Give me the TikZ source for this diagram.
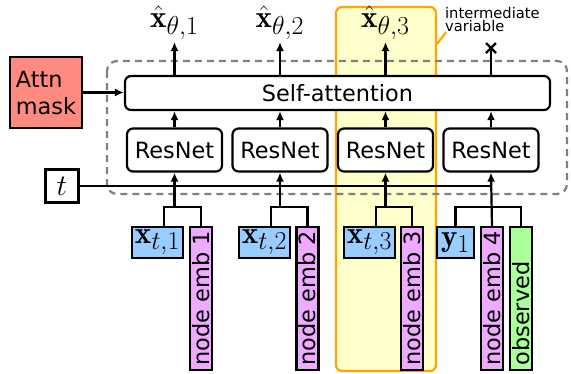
\RequirePackage{fix-cm}
\documentclass[tikz,border=0pt]{standalone}
\usepackage{fontspec}
\setsansfont{DejaVu Sans}
\usetikzlibrary{arrows.meta}
\definecolor{attnred}{RGB}{255,138,128}
\definecolor{hlyellow}{RGB}{255,255,204}
\definecolor{hlorange}{RGB}{255,165,0}
\definecolor{xblue}{RGB}{153,204,255}
\definecolor{embpink}{RGB}{238,170,255}
\definecolor{obsgreen}{RGB}{170,255,153}
\newcommand{\mbig}[2][1.25]{\scalebox{#1}{$#2$}}
\begin{document}
\begin{tikzpicture}[x=1pt,y=1pt,line width=2.2pt,
  >={Latex[length=9pt,width=8pt]},
  sansfont/.style={font=\sffamily\fontsize{22.4}{27}\selectfont},
  mathfont/.style={font=\fontsize{24.88}{30}\selectfont},
  blockbox/.style={draw,rounded corners=6pt,fill=white,inner sep=0,sansfont},
  inbox/.style={draw,inner sep=0,mathfont},
  embbox/.style={draw,inner sep=0,minimum width=22,minimum height=143,sansfont},
  outlabel/.style={anchor=south,inner sep=1pt,mathfont}]
\useasboundingbox (0,0) rectangle (571,-373);

% highlight column
\node[draw=hlorange,fill=hlyellow,rounded corners=6pt,minimum width=100,minimum height=364,inner sep=0] (hl) at (386,-189) {};
\node[anchor=north west,align=left,inner sep=0,font=\sffamily\fontsize{14.7}{13.5}\selectfont] (iv) at (444,-6) {intermediate\\variable};
\draw[hlorange] (hl.east |- 0,-44) -- ([xshift=2pt,yshift=1pt]iv.south west);

% dashed module frame
\draw[gray,dash pattern=on 7pt off 5pt,rounded corners=10pt] (107,-61) rectangle (567,-194);

% blocks
\node[blockbox,minimum width=425,minimum height=34] (sa) at (337.5,-93) {Self-attention};
\node[blockbox,minimum width=95,minimum height=43] (r1) at (174.5,-150) {ResNet};
\node[blockbox,minimum width=95,minimum height=43] (r2) at (280,-150) {ResNet};
\node[blockbox,minimum width=95,minimum height=43] (r3) at (385.5,-150) {ResNet};
\node[blockbox,minimum width=95,minimum height=43] (r4) at (491,-150) {ResNet};

\node[draw,line width=2.8pt,fill=attnred,minimum width=72,minimum height=71,align=left,inner sep=0,sansfont] (attn) at (46,-92.5) {Attn\\mask};
\node[draw,line width=2.8pt,minimum size=33,inner sep=0,mathfont] (t) at (62,-186) {\mbig[1.2]{t}};

% inputs
\node[inbox,fill=xblue,minimum width=51,minimum height=31] (x1) at (157.5,-242.5) {\mbig{\mathbf{x}_{t,1}}};
\node[inbox,fill=xblue,minimum width=51,minimum height=31] (x2) at (264.5,-242.5) {\mbig{\mathbf{x}_{t,2}}};
\node[inbox,fill=xblue,minimum width=51,minimum height=31] (x3) at (369.5,-242.5) {\mbig{\mathbf{x}_{t,3}}};
\node[inbox,fill=xblue,minimum width=37,minimum height=31] (y1) at (455.5,-242.5) {\mbig{\mathbf{y}_{1}}};
\node[embbox,fill=embpink] (e1) at (201,-298.5) {\rotatebox{90}{\makebox[134pt][l]{node emb 1}}};
\node[embbox,fill=embpink] (e2) at (307.5,-298.5) {\rotatebox{90}{\makebox[134pt][l]{node emb 2}}};
\node[embbox,fill=embpink] (e3) at (412,-298.5) {\rotatebox{90}{\makebox[134pt][l]{node emb 3}}};
\node[embbox,fill=embpink] (e4) at (492,-298.5) {\rotatebox{90}{\makebox[134pt][l]{node emb 4}}};
\node[embbox,fill=obsgreen] (ob) at (521,-298.5) {\rotatebox{90}{\makebox[134pt][l]{observed}}};

% outputs
\node[outlabel] (o1) at (174.5,-42) {\mbig{\hat{\mathbf{x}}_{\theta,1}}};
\node[outlabel] (o2) at (280,-42) {\mbig{\hat{\mathbf{x}}_{\theta,2}}};
\node[outlabel] (o3) at (385.5,-42) {\mbig{\hat{\mathbf{x}}_{\theta,3}}};
\coordinate (xm) at (491,-48);

% junctions
\coordinate (j1) at (r1.south |- 0,-207);
\coordinate (j2) at (r2.south |- 0,-207);
\coordinate (j3) at (r3.south |- 0,-207);
\coordinate (j4) at (r4.south |- 0,-207);

% connectors
\draw (t.east) -- (t.east -| r4.south);
\draw[->] (attn.east) -- (attn.east -| sa.west);
\foreach \i in {1,2,3}{
  \draw[->] (j\i) -- (r\i.south);
  \draw ([xshift=6.5pt]x\i.north) |- (j\i) -| (e\i.north);
}
\draw[->] (e4.north) -- (r4.south);
\draw (y1.north) |- (j4) -| (ob.north);
\foreach \i in {1,2,3,4}{
  \draw[->] (r\i.north) -- (r\i.north |- sa.south);
}
\foreach \i in {1,2,3}{
  \draw[->] (sa.north -| r\i.north) -- (o\i.south);
}
\draw (sa.north -| r4.north) -- (xm);
\draw (xm) +(-5,-5) -- +(5,5) (xm) +(-5,5) -- +(5,-5);
\end{tikzpicture}
\end{document}
